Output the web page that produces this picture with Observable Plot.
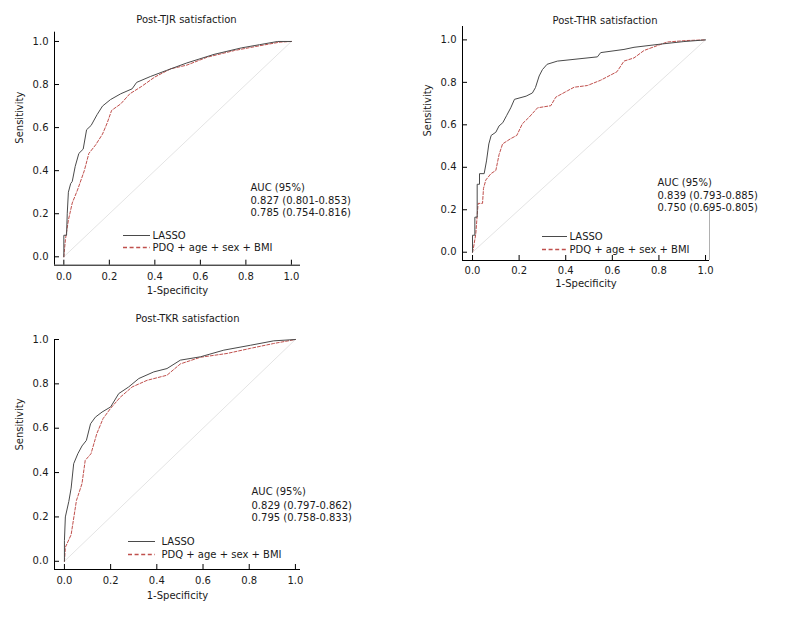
<!DOCTYPE html>
<html><head><meta charset="utf-8">
<script src="https://cdn.jsdelivr.net/npm/d3@7"></script>
<script src="https://cdn.jsdelivr.net/npm/@observablehq/plot@0.6"></script>
<style>
body{margin:0;background:#fff;}
#root{position:relative;width:799px;height:621px;background:#fff;}
#root svg{position:absolute;overflow:visible;}
</style></head><body><div id="root"></div>
<script>
// ---- tick values / labels ----
const tickValues = [0, 0.2, 0.4, 0.6, 0.8, 1.0];
const tickLabels = ["0.0", "0.2", "0.4", "0.6", "0.8", "1.0"];
const seriesNames = ["LASSO", "PDQ + age + sex + BMI"];
const diagX = [0, 1];
const diagY = [0, 1];
const axisTitleX = "1-Specificity";
const axisTitleY = "Sensitivity";

// ---- panel titles and AUC text ----
const titles = ["Post-TJR satisfaction", "Post-THR satisfaction", "Post-TKR satisfaction"];
const aucHeader = "AUC (95%)";
const aucTJR = ["0.827 (0.801-0.853)", "0.785 (0.754-0.816)"];
const aucTHR = ["0.839 (0.793-0.885)", "0.750 (0.695-0.805)"];
const aucTKR = ["0.829 (0.797-0.862)", "0.795 (0.758-0.833)"];

// ---- ROC curves (1-specificity, sensitivity) ----
const tjrLassoFpr = [0,0,0.012,0.015,0.02,0.03,0.037,0.05,0.066,0.085,0.10,0.12,0.146,0.17,0.205,0.25,0.30,0.32,0.38,0.45,0.54,0.66,0.78,0.86,0.94,1];
const tjrLassoTpr = [0,0.1,0.1,0.2,0.3,0.34,0.35,0.42,0.48,0.50,0.59,0.61,0.66,0.70,0.73,0.757,0.78,0.81,0.837,0.865,0.90,0.94,0.97,0.985,1.0,1];
const tjrPdqFpr = [0,0.007,0.02,0.037,0.06,0.09,0.11,0.14,0.17,0.19,0.21,0.25,0.29,0.34,0.40,0.47,0.54,0.63,0.75,0.86,0.95,1];
const tjrPdqTpr = [0,0.08,0.17,0.25,0.31,0.40,0.48,0.52,0.57,0.62,0.68,0.71,0.757,0.79,0.835,0.873,0.89,0.927,0.958,0.98,0.997,1];

const thrLassoFpr = [0,0,0.01,0.01,0.02,0.02,0.03,0.03,0.05,0.06,0.07,0.08,0.10,0.114,0.13,0.147,0.164,0.18,0.23,0.257,0.27,0.286,0.30,0.32,0.364,0.536,0.55,0.65,0.693,0.807,0.907,1];
const thrLassoTpr = [0,0.08,0.08,0.165,0.165,0.32,0.32,0.37,0.37,0.43,0.51,0.55,0.565,0.595,0.61,0.645,0.68,0.72,0.735,0.75,0.775,0.83,0.86,0.885,0.90,0.92,0.94,0.955,0.965,0.98,0.992,1];
const thrPdqFpr = [0,0.004,0.014,0.024,0.043,0.047,0.057,0.079,0.10,0.114,0.129,0.164,0.19,0.214,0.243,0.279,0.336,0.357,0.407,0.436,0.493,0.55,0.62,0.65,0.693,0.736,0.793,0.836,0.92,1];
const thrPdqTpr = [0,0.02,0.086,0.23,0.23,0.30,0.34,0.37,0.385,0.46,0.51,0.535,0.55,0.605,0.636,0.68,0.69,0.73,0.76,0.777,0.785,0.81,0.85,0.90,0.915,0.95,0.973,0.99,0.997,1];

const tkrLassoFpr = [0,0,0.004,0.019,0.029,0.04,0.058,0.076,0.095,0.113,0.134,0.163,0.2,0.235,0.278,0.322,0.387,0.444,0.502,0.589,0.69,0.805,0.906,1];
const tkrLassoTpr = [0,0.093,0.2,0.27,0.33,0.44,0.485,0.52,0.545,0.62,0.65,0.673,0.696,0.756,0.786,0.824,0.854,0.869,0.907,0.922,0.952,0.974,0.994,1];
const tkrPdqFpr = [0,0.004,0.029,0.052,0.076,0.09,0.115,0.14,0.167,0.2,0.242,0.293,0.358,0.444,0.502,0.589,0.704,0.805,0.906,1];
const tkrPdqTpr = [0,0.063,0.12,0.274,0.35,0.455,0.485,0.575,0.643,0.69,0.74,0.786,0.816,0.839,0.89,0.92,0.937,0.96,0.982,1];

// ---- styling ----
const FONT = '"DejaVu Sans", Verdana, sans-serif';
const FS = 10;
const TEXT = "#1a1a1a";
const LASSO_COLOR = "#4a4a4a";
const PDQ_COLOR = "#c0504d";
const DIAG_COLOR = "#e4e4e4";

const pts = (xs, ys) => xs.map((x, i) => ({x, y: ys[i]}));

function panel(cfg) {
  const [x0] = cfg.xDomain, [y0] = cfg.yDomain;
  const T = {fill: TEXT, lineAnchor: "middle"};
  const marks = [
    Plot.line(pts(diagX, diagY), {x: "x", y: "y", stroke: DIAG_COLOR, strokeWidth: 1}),
    Plot.line(pts(cfg.pdqFpr, cfg.pdqTpr), {x: "x", y: "y", stroke: PDQ_COLOR, strokeWidth: 1, strokeDasharray: "3,1.8"}),
    Plot.line(pts(cfg.lassoFpr, cfg.lassoTpr), {x: "x", y: "y", stroke: LASSO_COLOR, strokeWidth: 1}),
    // axis lines
    Plot.ruleX([x0], {stroke: "#000", strokeWidth: 1}),
    Plot.ruleY([y0], {stroke: "#000", strokeWidth: 1}),
    // inward ticks
    Plot.ruleX(tickValues, {x: d => d, y1: () => y0, y2: () => y0, insetTop: -5, stroke: "#000"}),
    Plot.ruleY(tickValues, {y: d => d, x1: () => x0, x2: () => x0, insetRight: -5, stroke: "#000"}),
    // tick labels
    Plot.text(tickValues, {...T, x: d => d, y: () => y0, text: (d, i) => tickLabels[i], dy: cfg.xTickDy}),
    Plot.text(tickValues, {...T, y: d => d, x: () => x0, text: (d, i) => tickLabels[i], dx: -6, textAnchor: "end"}),
    // axis titles
    Plot.text([axisTitleY], {...T, frameAnchor: "left", dx: cfg.yTitleDx, dy: cfg.yTitleDy, rotate: -90}),
    Plot.text([axisTitleX], {...T, frameAnchor: "bottom", dy: cfg.xTitleDy}),
    // title
    Plot.text([cfg.title], {...T, frameAnchor: "top", dx: cfg.titleDx, dy: cfg.titleDy}),
    // AUC block
    ...[aucHeader, ...cfg.auc].map((t, i) => Plot.text([t], {...T, frameAnchor: "top-left", dx: cfg.aucDx, dy: cfg.aucDy[i], textAnchor: "start"})),
    // legend
    Plot.ruleY([y0], {insetLeft: cfg.legL, insetRight: cfg.legR, dy: cfg.legDy[0], stroke: LASSO_COLOR, strokeWidth: 1}),
    Plot.ruleY([y0], {insetLeft: cfg.legL, insetRight: cfg.legR, dy: cfg.legDy[1], stroke: PDQ_COLOR, strokeWidth: 1.3, strokeDasharray: "4,2.6"}),
    ...seriesNames.map((s, i) => Plot.text([s], {...T, frameAnchor: "bottom-left", dx: cfg.legTextDx, dy: cfg.legDy[i], textAnchor: "start"}))
  ];
  if (cfg.extraRule) {
    marks.push(Plot.ruleX([cfg.xDomain[1]], {insetTop: cfg.extraRule, stroke: "#b0b0b0", strokeWidth: 1}));
  }
  const svg = Plot.plot({
    width: cfg.width, height: cfg.height,
    marginLeft: cfg.mL, marginRight: cfg.mR, marginTop: cfg.mT, marginBottom: cfg.mB,
    style: {fontFamily: FONT, fontSize: FS + "px", background: "transparent", overflow: "visible", color: TEXT},
    x: {domain: cfg.xDomain, axis: null},
    y: {domain: cfg.yDomain, axis: null},
    marks
  });
  svg.style.left = cfg.left + "px";
  svg.style.top = cfg.top + "px";
  document.getElementById("root").appendChild(svg);
}

// Panel 1: TJR
panel({
  left: 0, top: 0, width: 320, height: 300,
  mL: 54, mR: 20, mT: 31.7, mB: 35.3,
  xDomain: [-0.041, 1.04], yDomain: [-0.039, 1.043],
  title: titles[0], titleDx: 9, titleDy: -12,
  yTitleDx: -35, yTitleDy: -5, xTitleDy: 25.5, xTickDy: 11.5,
  auc: aucTJR, aucDx: 196, aucDy: [155.3, 168.3, 180.8],
  legL: 69, legR: 150, legDy: [-29.7, -17.7], legTextDx: 98,
  lassoFpr: tjrLassoFpr, lassoTpr: tjrLassoTpr, pdqFpr: tjrPdqFpr, pdqTpr: tjrPdqTpr
});

// Panel 2: THR
panel({
  left: 400, top: 0, width: 330, height: 300,
  mL: 62, mR: 21, mT: 26, mB: 40,
  xDomain: [-0.043, 1.017], yDomain: [-0.039, 1.063],
  title: titles[1], titleDx: 19, titleDy: -6,
  yTitleDx: -35, yTitleDy: -7, xTitleDy: 23.5, xTickDy: 10,
  auc: aucTHR, aucDx: 195, aucDy: [156, 169, 181],
  legL: 80, legR: 142, legDy: [-24, -11], legTextDx: 107,
  extraRule: 181,
  lassoFpr: thrLassoFpr, lassoTpr: thrLassoTpr, pdqFpr: thrPdqFpr, pdqTpr: thrPdqTpr
});

// Panel 3: TKR
panel({
  left: 0, top: 300, width: 320, height: 300,
  mL: 54, mR: 20, mT: 39, mB: 31,
  xDomain: [-0.043, 1.022], yDomain: [-0.037, 1.0],
  title: titles[2], titleDx: 10, titleDy: -21,
  yTitleDx: -35, yTitleDy: -4, xTitleDy: 26, xTickDy: 11.5,
  auc: aucTKR, aucDx: 197, aucDy: [152.7, 166, 178.5],
  legL: 74, legR: 145, legDy: [-28, -15], legTextDx: 107,
  lassoFpr: tkrLassoFpr, lassoTpr: tkrLassoTpr, pdqFpr: tkrPdqFpr, pdqTpr: tkrPdqTpr
});
</script>
</body></html>
